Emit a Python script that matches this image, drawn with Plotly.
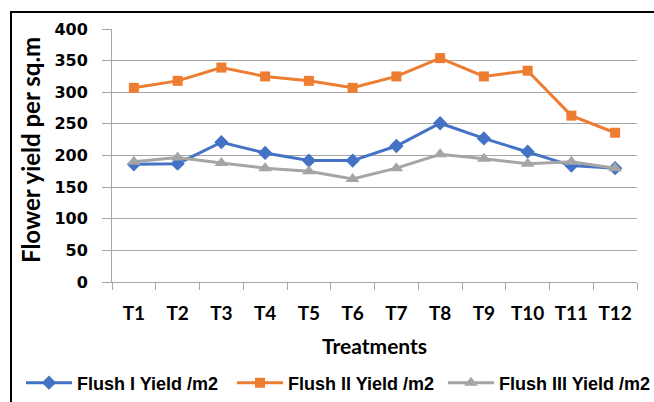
import plotly.graph_objects as go

treatments = ["T1", "T2", "T3", "T4", "T5", "T6", "T7", "T8", "T9", "T10", "T11", "T12"]
flush1 = [186, 187, 221, 204, 192, 192, 215, 251, 227, 206, 184, 180]
flush2 = [307, 318, 339, 325, 318, 307, 325, 354, 325, 334, 263, 236]
flush3 = [190, 197, 188, 180, 175, 163, 180, 202, 195, 187, 190, 180]

W, H = 654, 402
L, R, T, B = 112, 17, 29, 120
pw, ph = W - L - R, H - T - B


def px_x(v):
    return (v - L) / pw


def px_y(v):
    return (H - B - v) / ph


fig = go.Figure()
fig.add_trace(go.Scatter(x=treatments, y=flush1, name="Flush I Yield /m2", mode="lines+markers",
                         line=dict(color="#4472C4", width=3),
                         marker=dict(symbol="diamond", size=11, color="#4472C4")))
fig.add_trace(go.Scatter(x=treatments, y=flush2, name="Flush II Yield /m2", mode="lines+markers",
                         line=dict(color="#ED7D31", width=3),
                         marker=dict(symbol="square", size=10, color="#ED7D31")))
fig.add_trace(go.Scatter(x=treatments, y=flush3, name="Flush III Yield /m2", mode="lines+markers",
                         line=dict(color="#A5A5A5", width=3),
                         marker=dict(symbol="triangle-up", size=12, color="#A5A5A5")))

# outer chart frame (runs past the right and bottom edges of the canvas)
fig.add_shape(type="rect", xref="paper", yref="paper",
              x0=px_x(11), x1=px_x(W + 3), y0=px_y(H + 3), y1=px_y(12),
              line=dict(color="#000000", width=2), fillcolor="rgba(0,0,0,0)")

# axis titles
fig.add_annotation(text="Flower yield per sq.m", xref="paper", yref="paper",
                   x=px_x(30), y=px_y(150), xanchor="center", yanchor="middle",
                   textangle=-90, showarrow=False,
                   font=dict(family="Lato", size=24, color="#000000", weight="bold"))
fig.add_annotation(text="Treatments", xref="paper", yref="paper",
                   x=px_x(374), y=px_y(346), xanchor="center", yanchor="middle",
                   showarrow=False,
                   font=dict(family="Lato", size=21, color="#000000", weight="bold"))

fig.update_layout(
    width=W, height=H,
    margin=dict(l=L, r=R, t=T, b=B, autoexpand=False),
    paper_bgcolor="white", plot_bgcolor="white",
    showlegend=True,
    legend=dict(orientation="h", x=px_x(21), y=px_y(383), xanchor="left", yanchor="middle",
                font=dict(family="Liberation Sans", size=18, color="#000000", weight="bold"),
                itemwidth=46, entrywidth=150, traceorder="normal", bgcolor="rgba(0,0,0,0)"),
    xaxis=dict(
        type="category", range=[-0.5, 11.5],
        showgrid=False, showline=True, linecolor="#A6A6A6", linewidth=1,
        ticks="outside", tickson="boundaries", ticklen=7, tickcolor="#A6A6A6",
        tickfont=dict(family="Lato", size=19, color="#000000", weight="bold"),
        ticklabelstandoff=14,
    ),
    yaxis=dict(
        range=[0, 400], dtick=50,
        showgrid=True, gridcolor="#A6A6A6", gridwidth=1,
        showline=True, linecolor="#A6A6A6", linewidth=1,
        zeroline=False,
        ticks="outside", ticklen=9, tickcolor="#A6A6A6",
        tickfont=dict(family="DejaVu Sans", size=16, color="#000000", weight="bold"),
        ticklabelstandoff=11,
    ),
)

fig.write_html("out.html")
